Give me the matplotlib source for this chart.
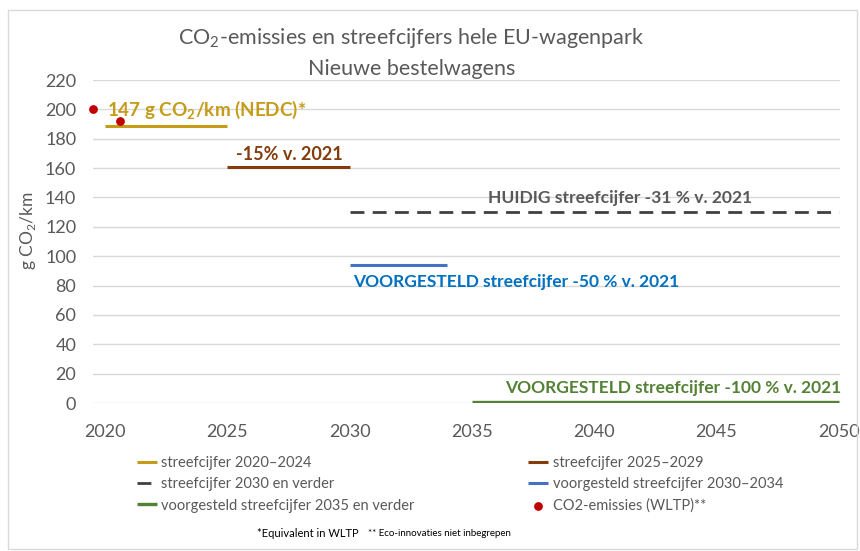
import matplotlib

matplotlib.use("Agg")

import matplotlib.pyplot as plt
from matplotlib.patches import Rectangle

plt.rcParams["font.family"] = ["Lato", "DejaVu Sans"]
plt.rcParams["mathtext.fontset"] = "custom"
plt.rcParams["mathtext.rm"] = "Lato"
plt.rcParams["mathtext.bf"] = "Lato:bold"

# target segments: (start year, end year, g CO2/km)
target_2020 = ([2020.0, 2025.0], [189, 189])
target_2025 = ([2025.0, 2030.0], [161, 161])
target_2030 = ([2030.0, 2050.0], [130, 130])
proposed_2030 = ([2030.0, 2034.0], [94, 94])
proposed_2035 = ([2035.0, 2050.0], [0.5, 0.5])

# measured emissions (WLTP)
emis_years = [2019.5, 2020.6]
emis_values = [200, 192]

x_ticks = [2020, 2025, 2030, 2035, 2040, 2045, 2050]
y_ticks = list(range(0, 221, 20))

GOLD = "#C59B17"
BROWN = "#843C0C"
GREY = "#404040"
BLUE = "#4472C4"
BLUE_TXT = "#0070C0"
GREEN = "#548235"
RED = "#C00000"
AXIS_TXT = "#595959"

fig = plt.figure(figsize=(8.6, 5.51), dpi=100)
ax = fig.add_axes([0.108, 0.2686, 0.869, 0.5862])

h_gold, = ax.plot(*target_2020, color=GOLD, lw=2.2, solid_capstyle="butt")
h_brown, = ax.plot(*target_2025, color=BROWN, lw=2.2, solid_capstyle="butt")
h_dash, = ax.plot(*target_2030, color=GREY, lw=2.0, ls=(0, (5, 3)))
h_blue, = ax.plot(*proposed_2030, color=BLUE, lw=2.2, solid_capstyle="butt")
h_green, = ax.plot(*proposed_2035, color=GREEN, lw=2.4, solid_capstyle="butt")
h_red = ax.scatter(emis_years, emis_values, color=RED, s=28, zorder=5, clip_on=False)

ax.text(2020.08, 200, "147 g CO$_{\\mathregular{2}}$/km (NEDC)*", color=GOLD,
        fontsize=13.6, fontweight="bold", va="center", ha="left")
ax.text(2025.35, 169, "-15% v. 2021", color=BROWN,
        fontsize=13, fontweight="bold", va="center", ha="left")
ax.text(2035.66, 139.5, "HUIDIG streefcijfer -31 % v. 2021", color=AXIS_TXT,
        fontsize=12.6, fontweight="bold", va="center", ha="left")
ax.text(2030.14, 82.5, "VOORGESTELD streefcijfer -50 % v. 2021", color=BLUE_TXT,
        fontsize=12.5, fontweight="bold", va="center", ha="left")
ax.text(2036.36, 10.5, "VOORGESTELD streefcijfer -100 % v. 2021", color=GREEN,
        fontsize=12.5, fontweight="bold", va="center", ha="left")

ax.set_xlim(2019.5, 2050.06)
ax.set_ylim(0, 220)
ax.set_xticks(x_ticks)
ax.set_yticks(y_ticks)
ax.tick_params(axis="both", length=0, labelsize=13, labelcolor=AXIS_TXT)
ax.tick_params(axis="x", pad=15)
ax.tick_params(axis="y", pad=12)
ax.grid(axis="y", color="#D9D9D9", lw=1)
ax.set_axisbelow(True)
for s in ax.spines.values():
    s.set_visible(False)
ax.set_ylabel("g CO$_{\\mathregular{2}}$/km", fontsize=12.5, color=AXIS_TXT)
ax.yaxis.set_label_coords(-0.074, 0.535)

fig.text(0.4785, 0.931, "CO$_{\\mathregular{2}}$-emissies en streefcijfers hele EU-wagenpark",
         ha="center", va="center", fontsize=15.5, color=AXIS_TXT)
fig.text(0.4785, 0.875, "Nieuwe bestelwagens", ha="center", va="center",
         fontsize=15.5, color=AXIS_TXT)

handles = [h_gold, h_dash, h_green, h_brown, h_blue, h_red]
labels = [
    "streefcijfer 2020\u20132024",
    "streefcijfer 2030 en verder",
    "voorgesteld streefcijfer 2035 en verder",
    "streefcijfer 2025\u20132029",
    "voorgesteld streefcijfer 2030\u20132034",
    "CO2-emissies (WLTP)**",
]
leg = fig.legend(handles, labels, ncol=2, loc="upper left",
                 bbox_to_anchor=(0.152, 0.183), frameon=False, fontsize=10.5,
                 handlelength=1.4, handletextpad=0.3, columnspacing=7.75,
                 labelspacing=0.5, borderaxespad=0)
for t in leg.get_texts():
    t.set_color(AXIS_TXT)

fig.text(0.299, 0.032, "*Equivalent in WLTP", fontsize=8, color="black",
         ha="left", va="center")
fig.text(0.428, 0.032, "** Eco-innovaties niet inbegrepen", fontsize=7, color="black",
         ha="left", va="center")

fig.patches.append(Rectangle((0.009, 0.004), 0.988, 0.978, transform=fig.transFigure,
                             fill=False, edgecolor="#D9D9D9", lw=1))

fig.savefig("out.png", dpi=100)
